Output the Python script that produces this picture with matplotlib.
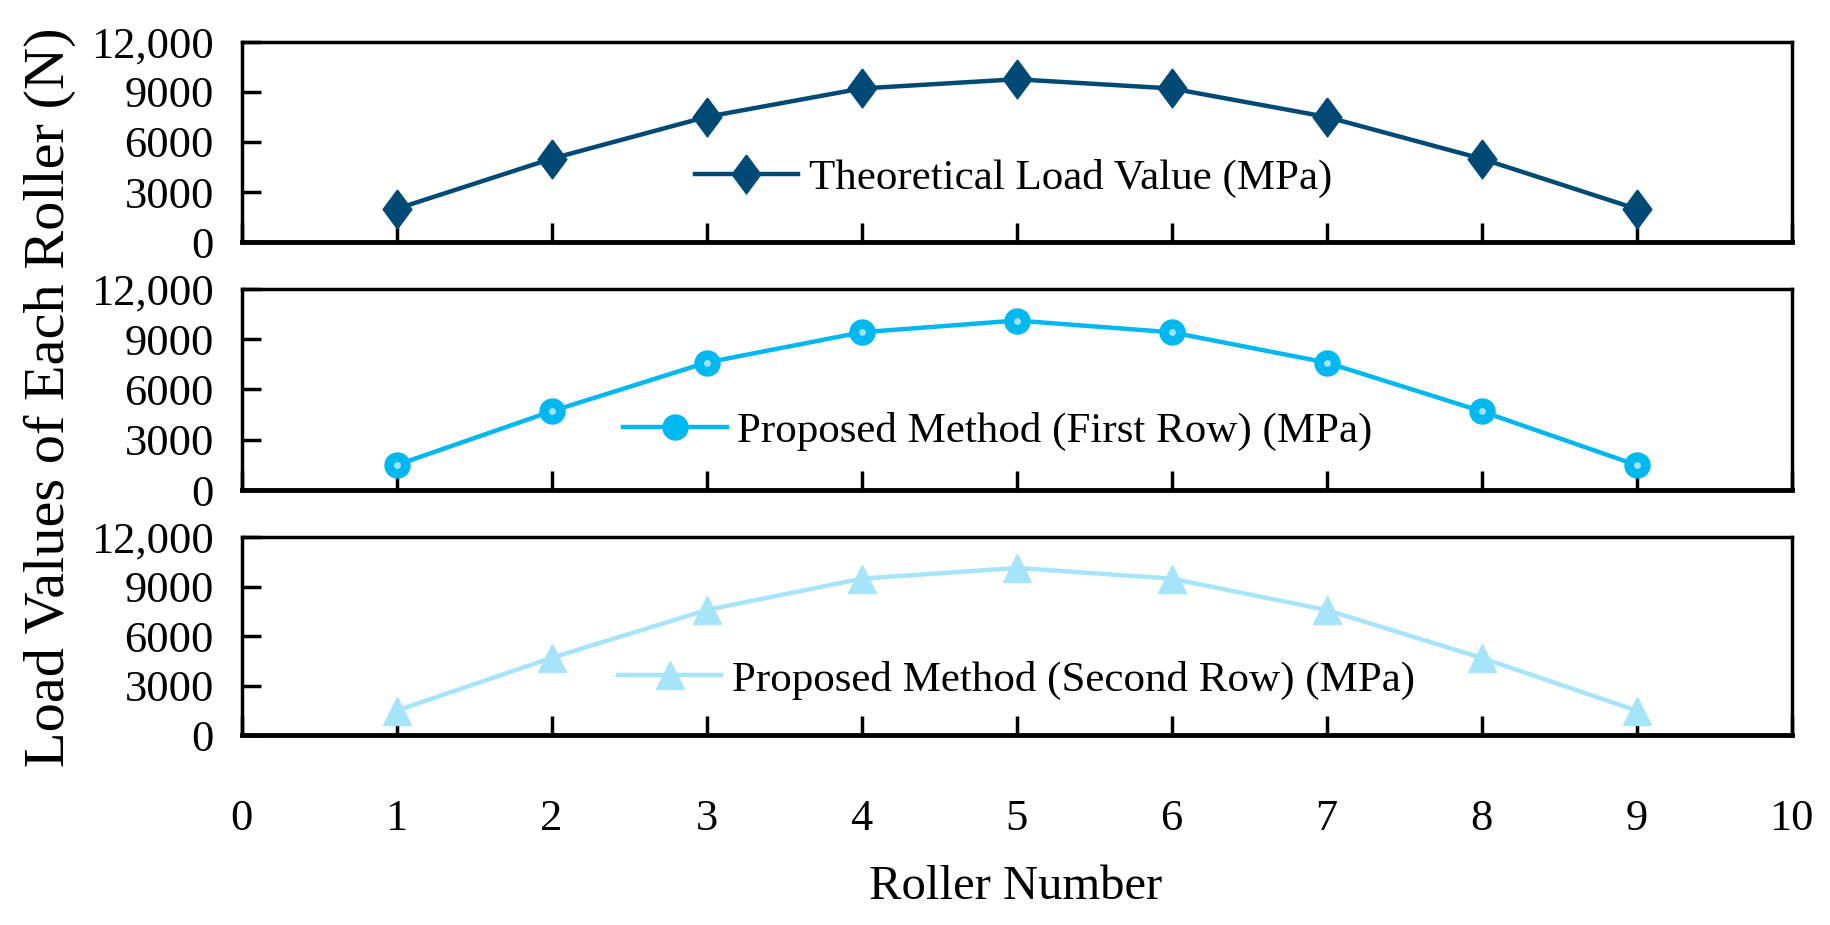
import matplotlib
matplotlib.use("Agg")
import matplotlib.pyplot as plt

plt.rcParams['font.family'] = ['Liberation Serif', 'DejaVu Serif']

rollers = [1, 2, 3, 4, 5, 6, 7, 8, 9]
theoretical = [2000, 5000, 7500, 9200, 9750, 9200, 7500, 5000, 2000]
first_row = [1500, 4700, 7600, 9400, 10100, 9400, 7600, 4700, 1500]
second_row = [1500, 4700, 7600, 9500, 10150, 9500, 7600, 4700, 1500]

y_ticks = [0, 3000, 6000, 9000, 12000]
y_tick_labels = ['0', '3000', '6000', '9000', '12,000']
x_ticks = [0, 1, 2, 3, 4, 5, 6, 7, 8, 9, 10]

# wide diamond, a bit narrower than tall
diamond = [(0, 1), (0.74, 0), (0, -1), (-0.74, 0), (0, 1)]

series = [
    (theoretical, 'Theoretical Load Value (MPa)', '#004a75', diamond, 28, (0.498, 0.32)),
    (first_row, 'Proposed Method (First Row) (MPa)', '#00b8f0', 'o', 18, (0.488, 0.29)),
    (second_row, 'Proposed Method (Second Row) (MPa)', '#a6e4fa', '^', 20, (0.50, 0.28)),
]

fig = plt.figure(figsize=(18.3, 9.25), dpi=100)
boxes = [(0.132, 0.738, 0.847, 0.217),
         (0.132, 0.470, 0.847, 0.218),
         (0.132, 0.205, 0.847, 0.214)]

for i, (vals, label, color, marker, ms, legpos) in enumerate(series):
    ax = fig.add_axes(boxes[i])
    line, = ax.plot(rollers, vals, color=color, lw=3.2, marker=marker, ms=ms,
                    markeredgecolor=color, label=label)
    if marker == 'o':
        # soft highlight on the balls
        ax.plot(rollers, vals, ls='none', marker='o', ms=5, color='#9fe2fb',
                markeredgecolor='none')
    ax.set_xlim(0, 10)
    ax.set_ylim(0, 12000)
    ax.set_yticks(y_ticks)
    ax.set_yticklabels(y_tick_labels)
    ax.set_xticks(x_ticks)
    ax.tick_params(axis='both', direction='in', length=14, width=2.5,
                   labelsize=32)
    ax.tick_params(axis='y', pad=20)
    if i < 2:
        ax.tick_params(axis='x', labelbottom=False)
    else:
        ax.tick_params(axis='x', pad=46)
    for sp in ax.spines.values():
        sp.set_linewidth(2.5)
    ax.spines['bottom'].set_linewidth(3.5)
    ax.legend(handles=[line], loc='center', bbox_to_anchor=legpos,
              frameon=False, fontsize=31, handlelength=2.4,
              handletextpad=0.25, borderpad=0)

fig.text(0.027, 0.571, 'Load Values of Each Roller (N)', rotation=90,
         ha='center', va='center', fontsize=42)
fig.text(0.555, 0.041, 'Roller Number', ha='center', va='center', fontsize=35)

fig.savefig('out.png', dpi=100)
